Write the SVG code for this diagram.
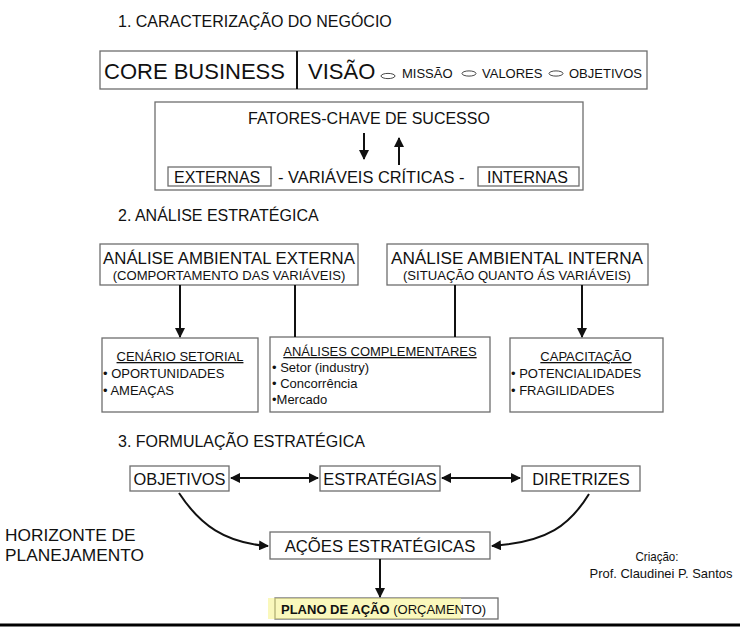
<svg xmlns="http://www.w3.org/2000/svg" width="740" height="628" viewBox="0 0 740 628">
<style>
text{font-family:"Liberation Sans",Arial,sans-serif;fill:#111}
.box{fill:#fff;stroke:#6e6e6e;stroke-width:1.3}
.sec{font-size:16px}
.c{text-anchor:middle}
.ln{stroke:#111;stroke-width:2;fill:none}
.ell{fill:#fff;stroke:#333;stroke-width:0.9}
.u{text-decoration:underline}
</style>
<defs>
<marker id="ah" viewBox="0 0 10 10" refX="9" refY="5" markerWidth="5" markerHeight="5" orient="auto-start-reverse" markerUnits="strokeWidth">
<path d="M0,0 L10,5 L0,10 z" fill="#111"/>
</marker>
</defs>
<rect width="740" height="628" fill="#fff"/>

<text class="sec" x="118" y="27">1. CARACTERIZAÇÃO DO NEGÓCIO</text>

<g id="core">
<rect class="box" x="100" y="51" width="547" height="38"/>
<line x1="297" y1="51" x2="297" y2="89" stroke="#111" stroke-width="2"/>
<text x="104" y="79" style="font-size:22px">CORE BUSINESS</text>
<text x="308" y="79" style="font-size:22px">VISÃO</text>
<ellipse class="ell" cx="388" cy="76" rx="7" ry="2.6"/>
<text x="402" y="78" style="font-size:13px">MISSÃO</text>
<ellipse class="ell" cx="469" cy="73.5" rx="7" ry="2.6"/>
<text x="482" y="78" style="font-size:13px">VALORES</text>
<ellipse class="ell" cx="556" cy="73.5" rx="7" ry="2.6"/>
<text x="569" y="78" style="font-size:13px">OBJETIVOS</text>
</g>

<g id="fatores">
<rect class="box" x="155" y="102" width="428" height="88"/>
<text class="c" x="369" y="124" style="font-size:16px">FATORES-CHAVE DE SUCESSO</text>
<rect class="box" x="168" y="167" width="103" height="19"/>
<text x="174" y="183" style="font-size:16px">EXTERNAS</text>
<text x="278" y="183" style="font-size:16.4px">- VARIÁVEIS CRÍTICAS -</text>
<rect class="box" x="478" y="167" width="101" height="19"/>
<text x="487" y="183" style="font-size:16px">INTERNAS</text>
</g>

<text class="sec" x="118" y="221">2. ANÁLISE ESTRATÉGICA</text>

<g id="aae">
<rect class="box" x="100" y="244" width="258" height="41"/>
<text class="c" x="229" y="264" style="font-size:16.8px">ANÁLISE AMBIENTAL EXTERNA</text>
<text class="c" x="229" y="280" style="font-size:13.1px">(COMPORTAMENTO DAS VARIÁVEIS)</text>
</g>
<g id="aai">
<rect class="box" x="387" y="244" width="261" height="41"/>
<text class="c" x="517" y="264" style="font-size:17.2px">ANÁLISE AMBIENTAL INTERNA</text>
<text class="c" x="517" y="280" style="font-size:13.1px">(SITUAÇÃO QUANTO ÁS VARIÁVEIS)</text>
</g>

<g id="cenario">
<rect class="box" x="102" y="338" width="156" height="74"/>
<text class="c u" x="180" y="361" style="font-size:13px">CENÁRIO SETORIAL</text>
<text x="103" y="378" style="font-size:13px">• OPORTUNIDADES</text>
<text x="103" y="395" style="font-size:13px">• AMEAÇAS</text>
</g>
<g id="complementares">
<rect class="box" x="270" y="337" width="220" height="75"/>
<text class="c u" x="380" y="356" style="font-size:13px">ANÁLISES COMPLEMENTARES</text>
<text x="272" y="372" style="font-size:13px">• Setor (industry)</text>
<text x="272" y="388" style="font-size:13px">• Concorrência</text>
<text x="272" y="404" style="font-size:13px">•Mercado</text>
</g>
<g id="capacitacao">
<rect class="box" x="510" y="338" width="153" height="74"/>
<text class="c u" x="586" y="361" style="font-size:13px">CAPACITAÇÃO</text>
<text x="511" y="378" style="font-size:13px">• POTENCIALIDADES</text>
<text x="511" y="395" style="font-size:13px">• FRAGILIDADES</text>
</g>

<text class="sec" x="118" y="447">3. FORMULAÇÃO ESTRATÉGICA</text>

<g id="objetivos">
<rect class="box" x="130" y="466" width="99" height="25"/>
<text class="c" x="179.5" y="485" style="font-size:16.4px">OBJETIVOS</text>
</g>
<g id="estrategias">
<rect class="box" x="320" y="466" width="120" height="25"/>
<text class="c" x="380" y="485" style="font-size:16.4px">ESTRATÉGIAS</text>
</g>
<g id="diretrizes">
<rect class="box" x="522" y="466" width="118" height="25"/>
<text class="c" x="581" y="485" style="font-size:16.4px">DIRETRIZES</text>
</g>
<g id="acoes">
<rect class="box" x="270" y="532" width="220" height="27"/>
<text class="c" x="380" y="552" style="font-size:16.7px">AÇÕES ESTRATÉGICAS</text>
</g>
<g id="plano">
<rect class="box" x="275" y="598" width="223" height="21"/>
<rect x="268" y="598" width="193" height="21" fill="#f6f27a" opacity="0.5"/>
<text x="281" y="614" style="font-size:13px"><tspan font-weight="bold">PLANO DE AÇÃO</tspan> (ORÇAMENTO)</text>
</g>

<g id="horizonte">
<text x="5" y="541" style="font-size:17.3px">HORIZONTE DE</text>
<text x="5" y="561" style="font-size:17.3px">PLANEJAMENTO</text>
</g>
<g id="credito">
<text class="c" x="657" y="561" style="font-size:13px" textLength="43" lengthAdjust="spacingAndGlyphs">Criação:</text>
<text class="c" x="661" y="578" style="font-size:13.5px" textLength="143" lengthAdjust="spacingAndGlyphs">Prof. Claudinei P. Santos</text>
</g>

<g id="connectors">
<line class="ln" x1="364" y1="133" x2="364" y2="159" marker-end="url(#ah)"/>
<line class="ln" x1="399" y1="165" x2="399" y2="138" marker-end="url(#ah)"/>
<line class="ln" x1="180" y1="285" x2="180" y2="337" marker-end="url(#ah)"/>
<line class="ln" x1="295" y1="285" x2="295" y2="337"/>
<line class="ln" x1="455" y1="285" x2="455" y2="337"/>
<line class="ln" x1="582" y1="285" x2="582" y2="337" marker-end="url(#ah)"/>
<line class="ln" x1="231" y1="478" x2="318" y2="478" marker-start="url(#ah)" marker-end="url(#ah)"/>
<line class="ln" x1="442" y1="478" x2="520" y2="478" marker-start="url(#ah)" marker-end="url(#ah)"/>
<path class="ln" d="M179,493 C200,525 225,543 268,546" marker-end="url(#ah)"/>
<path class="ln" d="M589,494 C570,525 548,542 492,546" marker-end="url(#ah)"/>
<line class="ln" x1="380" y1="559" x2="380" y2="597" marker-end="url(#ah)"/>
<line x1="0" y1="625" x2="740" y2="625" stroke="#000" stroke-width="3"/>
</g>
</svg>
